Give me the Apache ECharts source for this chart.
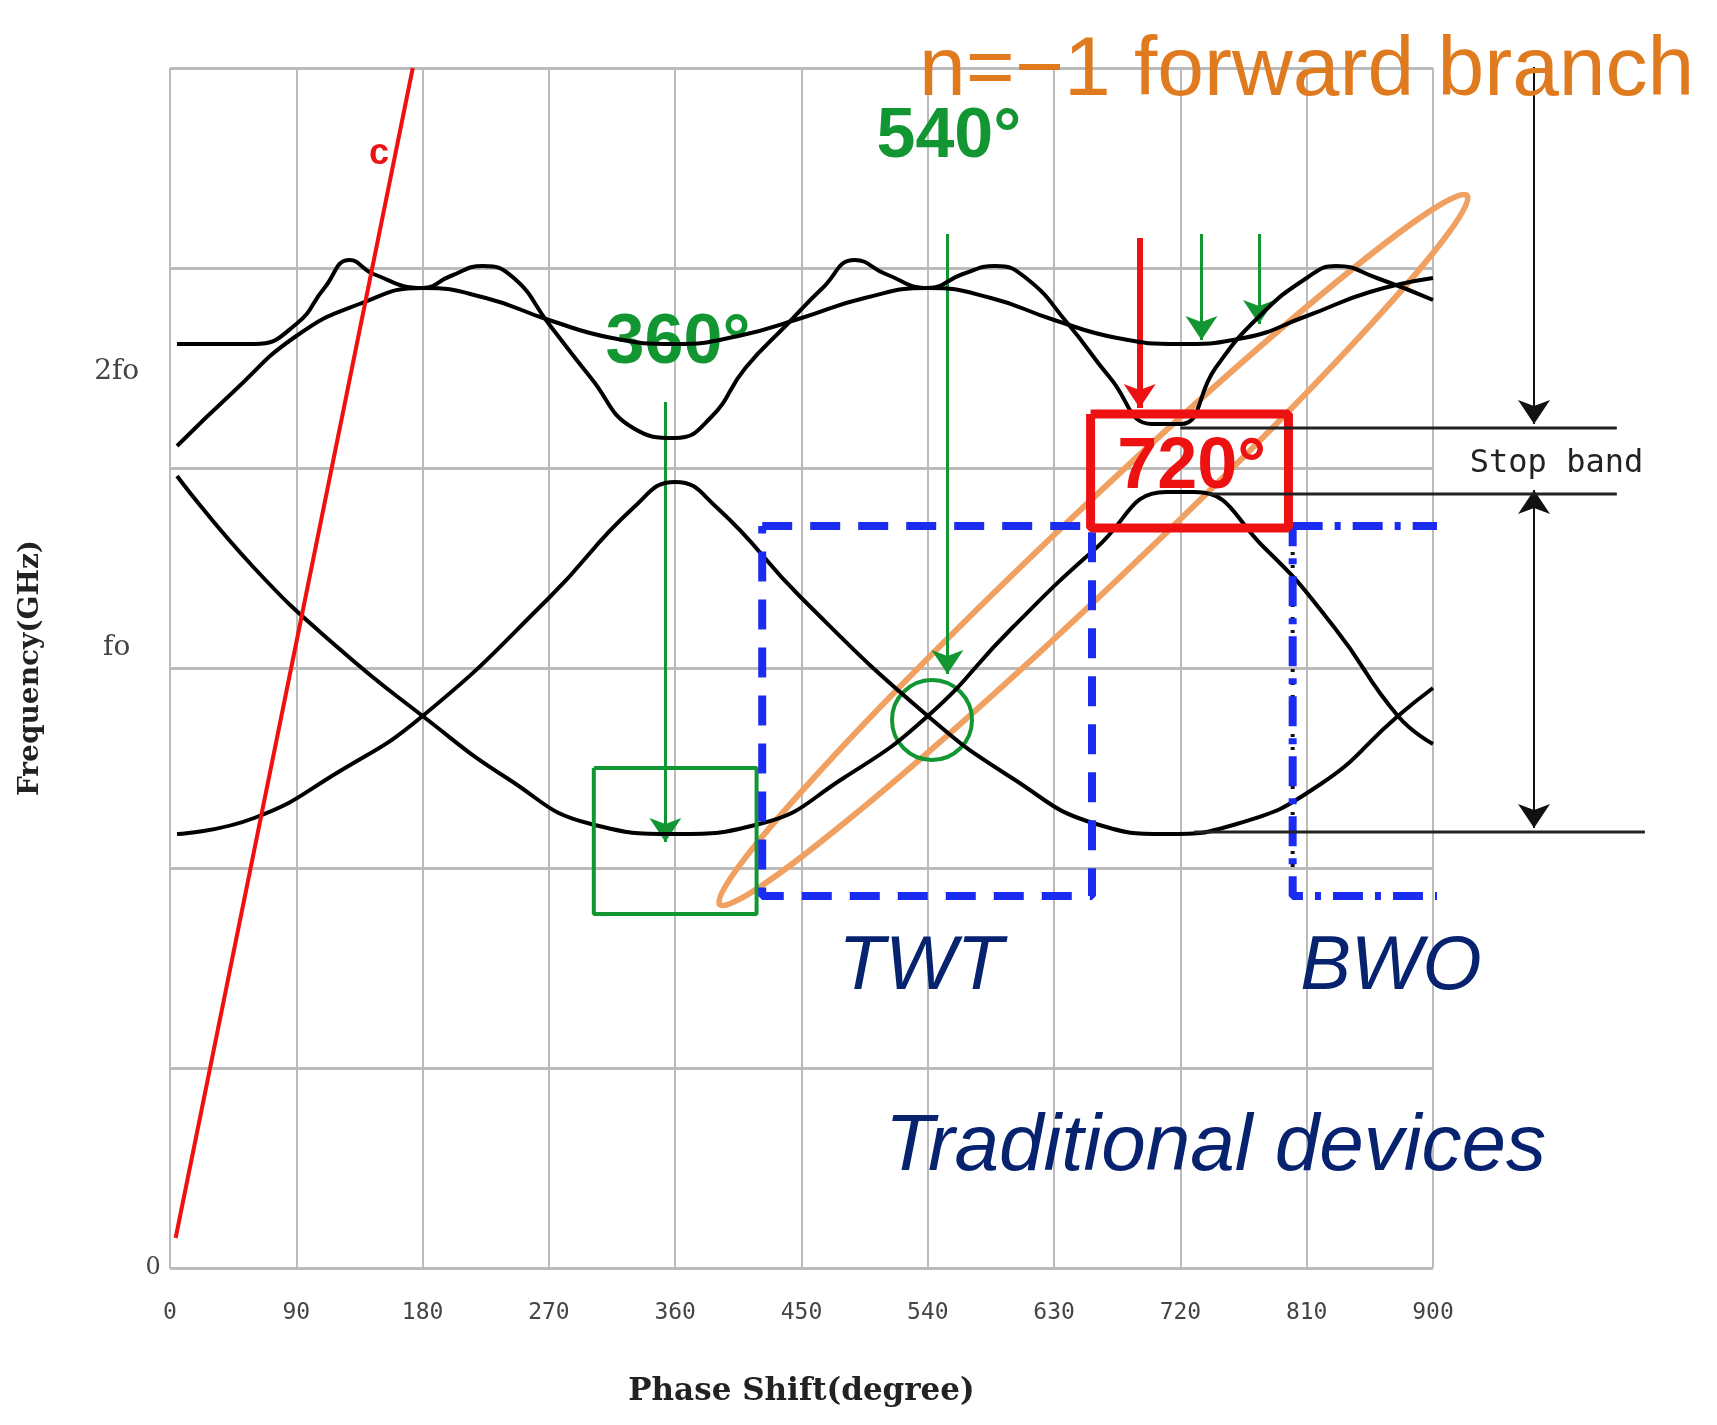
<!DOCTYPE html>
<html><head><meta charset="utf-8">
<script src="https://cdn.jsdelivr.net/npm/echarts@6/dist/echarts.min.js"></script>
<style>html,body{margin:0;background:#fff}#c{width:1717px;height:1425px}</style>
</head><body><div id="c"></div>
<script>
// dispersion curves (phase deg, frequency in grid units)
const upperSmooth = [[5,4.11],[45,4.38],[90,4.66],[135,4.82],[180,4.90],[225,4.85],[270,4.74],[315,4.65],[360,4.62],[405,4.66],[450,4.75],[495,4.85],[540,4.90],[585,4.85],[630,4.74],[675,4.65],[720,4.62],[765,4.65],[810,4.76],[855,4.88],[900,4.95]];
const upperBumpy = [[5,4.62],[60,4.62],[90,4.72],[110,4.9],[128,5.04],[145,4.97],[180,4.90],[200,4.96],[223,5.01],[245,4.95],[270,4.72],[300,4.45],[330,4.2],[360,4.15],[385,4.25],[410,4.5],[440,4.72],[465,4.9],[488,5.04],[510,4.97],[540,4.90],[565,4.97],[588,5.01],[610,4.95],[640,4.72],[670,4.45],[700,4.22],[720,4.22],[745,4.5],[775,4.75],[810,4.95],[831,5.01],[860,4.95],[900,4.84]];
const lowerA = [[5,2.17],[60,2.25],[120,2.48],[180,2.76],[270,3.35],[330,3.8],[360,3.93],[390,3.8],[450,3.35],[540,2.76],[600,2.45],[660,2.22],[710,2.17],[760,2.22],[820,2.42],[875,2.76],[900,2.90]];
const lowerB = [[5,3.96],[60,3.5],[120,3.1],[180,2.76],[240,2.45],[300,2.22],[360,2.17],[420,2.22],[480,2.45],[540,2.76],[600,3.2],[660,3.6],[710,3.88],[730,3.88],[780,3.6],[830,3.2],[875,2.76],[900,2.62]];
const lightLine = [[4,0.15],[173,6.0]];
const yLabels = [['0',0],['fo',3.10],['2fo',4.48]];
const stopBandLines = [[720,4.2,1031,4.2],[740,3.87,1031,3.87],[730,2.18,1051,2.18]];
const stopBandArrows = [[972,6.34,972,4.22],[972,3.0,972,3.89],[972,3.0,972,2.2]];

const green = '#129632', navy = '#07226e', orange = '#e07a1f';
const gridW = 1717 - 170 - 284, wideW = 1717 - 170 - 40;
const poly = (x0, y0, x1, y1) => [[x0,y0],[x1,y0],[x1,y1],[x0,y1],[x0,y0]];
const curve = d => ({type:'line', data:d, smooth:true, symbol:'none', lineStyle:{color:'#000', width:4}});
const rect = (d, color, w, type, xi) => ({type:'line', xAxisIndex:xi||0, yAxisIndex:xi||0, data:d, symbol:'none', clip:false, lineStyle:{color, width:w, type}});
const texts = (items, xi) => ({type:'scatter', xAxisIndex:xi||0, yAxisIndex:xi||0, symbolSize:0, clip:false, silent:true, itemStyle:{opacity:1},
  data: items.map(t => ({value:[t[0],t[1]], label:{show:true, position:'inside', formatter:t[2], color:t[3], fontSize:t[4], fontWeight:t[5]||'normal', fontStyle:t[6]||'normal', fontFamily:t[7]||'Liberation Sans', backgroundColor:t[8]||'transparent', padding:t[8]?[12,4]:0}}))});
const arrows = (items, color, w, xi) => ({type:'lines', coordinateSystem:'cartesian2d', xAxisIndex:xi||0, yAxisIndex:xi||0, symbol:['none','arrow'], symbolSize:24,
  lineStyle:{color, width:w, opacity:1}, data: items.map(a => ({coords:[[a[0],a[1]],[a[2],a[3]]]}))});

const chart = echarts.init(document.getElementById('c'));
chart.setOption({
  animation:false,
  grid:[{left:170, right:284, top:68, bottom:157}, {left:170, right:40, top:68, bottom:157}],
  xAxis:[{type:'value', min:0, max:900, interval:90, gridIndex:0,
    name:'Phase Shift(degree)', nameLocation:'middle', nameGap:108,
    nameTextStyle:{fontFamily:'DejaVu Serif', fontWeight:'bold', fontSize:31, color:'#222'},
    axisLine:{show:false}, axisTick:{show:false},
    axisLabel:{fontFamily:'DejaVu Sans Mono', fontSize:23, color:'#444', margin:34},
    splitLine:{lineStyle:{color:'#bbb', width:2}}},
   {type:'value', min:0, max:900*wideW/gridW, gridIndex:1, show:false, splitLine:{show:false}}],
  yAxis:[{type:'value', min:0, max:6, interval:1, gridIndex:0,
    name:'Frequency(GHz)', nameLocation:'middle', nameGap:125,
    nameTextStyle:{fontFamily:'DejaVu Serif', fontWeight:'bold', fontSize:28, color:'#222'},
    axisLine:{show:false}, axisTick:{show:false}, axisLabel:{show:false},
    splitLine:{lineStyle:{color:'#bbb', width:3}}},
   {type:'value', min:0, max:6, gridIndex:1, show:false, splitLine:{show:false}}],
  series:[
    curve(upperSmooth), curve(upperBumpy), curve(lowerA), curve(lowerB),
    {type:'line', data:lightLine, symbol:'none', clip:false, lineStyle:{color:'#f01010', width:4}},
    texts([[-12,yLabels[0][1],yLabels[0][0],'#444',24,'normal','normal','DejaVu Serif'],
           [-38,yLabels[1][1],yLabels[1][0],'#444',28,'normal','normal','DejaVu Serif'],
           [-38,yLabels[2][1],yLabels[2][0],'#444',28,'normal','normal','DejaVu Serif']]),
    rect(poly(302,2.5,418,1.77), green, 4, 'solid'),
    rect(poly(422,3.71,657,1.86), '#1a2cf0', 8, [30,18]),
    rect([[800,3.71],[800,1.86]], '#111', 4, [3,10]),
    rect(poly(800,3.71,907,1.86), '#1a2cf0', 8, [30,12,6,12]),
    rect(poly(656,4.27,797,3.70), '#ee1111', 9, 'solid'),
    arrows([[353,4.33,353,2.13],[554,5.17,554,2.97],[735,5.17,735,4.64],[776,5.17,776,4.72]], green, 3),
    arrows([[691,5.15,691,4.30]], '#ee1111', 6),
    ...stopBandLines.map(l => rect([[l[0],l[1]],[l[2],l[3]]], '#222', 3, 'solid', 1)),
    arrows(stopBandArrows, '#111', 2, 1),
    texts([[988,4.02,'Stop band','#222',32,'normal','normal','DejaVu Sans Mono']], 1),
    texts([[149,5.57,'c','#ee1111',36,'bold','normal','Liberation Sans','#fff'],
           [362,4.62,'360°',green,70,'bold'],
           [555,5.65,'540°',green,70,'bold'],
           [728,4.0,'720°','#ee1111',72,'bold'],
           [535,1.5,'TWT',navy,76,'normal','italic'],
           [870,1.5,'BWO',navy,76,'normal','italic'],
           [745,0.6,'Traditional devices',navy,80,'normal','italic'],
           [810,5.98,'n=−1 forward branch',orange,84,'normal']])
  ]
});

// orange ellipse around the n=-1 branch and green circle at the 540° crossing
const ctr = chart.convertToPixel({gridIndex:0}, [658, 3.59]);
chart.setOption({graphic:[
  {type:'ellipse', x:ctr[0], y:ctr[1], rotation:43.5*Math.PI/180,
   shape:{cx:0, cy:0, rx:515, ry:38}, style:{fill:'none', stroke:'#f0a060', lineWidth:6}},
  {type:'circle', position:chart.convertToPixel({gridIndex:0},[543,2.74]),
   shape:{r:40}, style:{fill:'none', stroke:green, lineWidth:4}}
]});
</script></body></html>
